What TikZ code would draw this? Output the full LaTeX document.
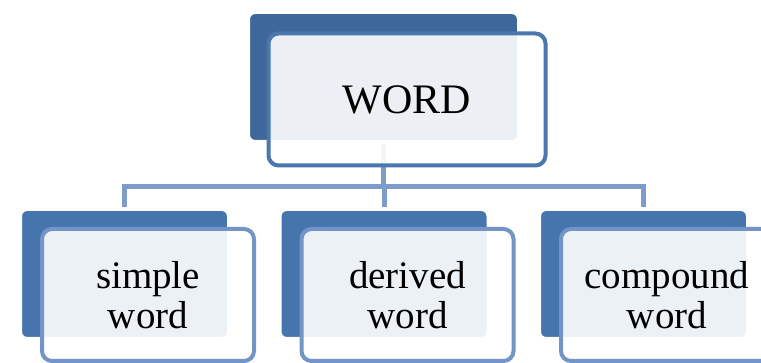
\documentclass[tikz,border=0pt]{standalone}
\usepackage{fontspec}
\setmainfont{Liberation Serif}
\usetikzlibrary{shadows}
\definecolor{topback}{RGB}{62,104,155}
\definecolor{subback}{RGB}{70,116,173}
\definecolor{topline}{RGB}{73,119,174}
\definecolor{subline}{RGB}{115,148,199}
\definecolor{linkcol}{RGB}{125,155,203}

\begin{document}
\begin{tikzpicture}[x=1pt,y=-1pt,
    back/.style={draw=white,line width=8pt,rounded corners=9pt,inner sep=0pt,outer sep=0pt,
      minimum height=134pt,drop shadow={opacity=0.18,shadow xshift=2pt,shadow yshift=-3pt}},
    front/.style={line width=4pt,rounded corners=10pt,fill=white,fill opacity=0.9,text opacity=1,
      inner sep=0pt,outer sep=0pt,minimum height=132pt,align=center,xshift=23.5pt,yshift=-21pt},
    link/.style={linkcol,line width=5pt}]
    \useasboundingbox (0,0) rectangle (761,363);

    %/ Back boxes
    \node[back,fill=topback,minimum width=275pt,minimum height=134pt] (wordback) at (383.5,77) {};
    \foreach \n/\x in {simple/124.5,derived/384,compound/643.5}
        \node[back,fill=subback,minimum width=213pt] (\n back) at (\x,274) {};

    %/ Links
    \coordinate (split) at (383.5,187);
    \foreach \n in {simple,derived,compound}
        \draw[link] (wordback.south) -- (wordback.south |- split) -| (\n back.north);

    %/ Front boxes
    \node[front,draw=topline,minimum width=277pt,yshift=-1.5pt,font=\fontsize{42}{44}\selectfont] (word) at (wordback) {WORD};
    \foreach \n/\ntext in {simple/simple\\word,derived/derived\\word,compound/compound\\word}
        \node[front,draw=subline,minimum width=212pt,font=\fontsize{39}{40}\selectfont] (\n) at (\n back) {\ntext};
\end{tikzpicture}
\end{document}
